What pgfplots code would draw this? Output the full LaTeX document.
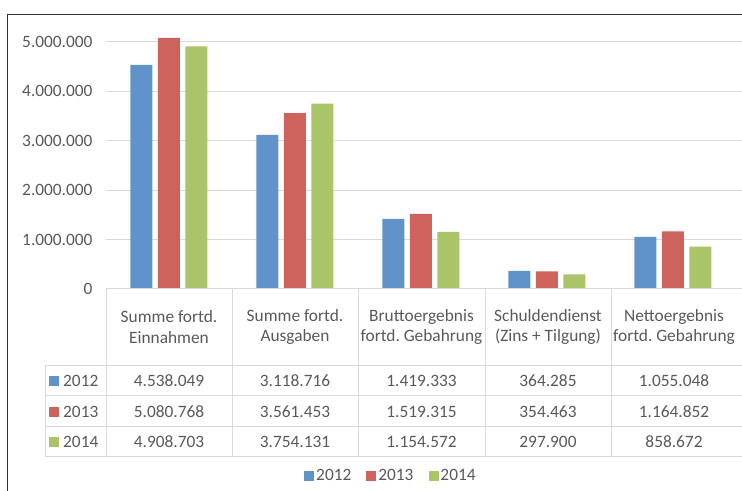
\documentclass[border=0pt]{standalone}
\usepackage{pgfplots}
\pgfplotsset{compat=1.18}
\usepackage{fontspec}
\setmainfont{Carlito}
\frenchspacing
\definecolor{cblue}{HTML}{5F93C9}
\definecolor{cred}{HTML}{CD635C}
\definecolor{cgreen}{HTML}{ABC46A}
\definecolor{txt}{HTML}{595959}
\definecolor{gridc}{HTML}{D9D9D9}
\newcommand\fs{\fontsize{17.4}{21}\selectfont}
\begin{document}
\begin{tikzpicture}[x=1bp,y=1bp]
\useasboundingbox (0,0) rectangle (742,491);
\begin{axis}[
  at={(106bp,202bp)}, anchor=south west,
  scale only axis, width=636bp, height=271.7bp,
  xmin=-0.5, xmax=4.548, ymin=0, ymax=5500000,
  xtick=\empty,
  ytick={0,1000000,2000000,3000000,4000000,5000000},
  scaled y ticks=false,
  /pgf/number format/.cd, fixed, 1000 sep={.}, assume math mode=true, /pgfplots/.cd,
  yticklabel style={font=\fs, text=txt, xshift=-10bp},
  axis line style={draw=none},
  major tick length=0pt,
  ymajorgrids, grid style={gridc, line width=1bp},
  ybar, bar width=22bp,
  legend style={at={(0.448,-0.688)}, anchor=center, draw=none, fill=none,
    legend columns=-1, font=\fs, text=txt,
    /tikz/every even column/.append style={column sep=13bp}},
  legend image code/.code={\fill[#1] (-4bp,-5bp) rectangle (6bp,5bp);},
]
\addplot[fill=cblue, draw=none, bar shift=-27.5bp] coordinates {(0,4538049) (1,3118716) (2,1419333) (3,364285) (4,1055048)};
\addplot[fill=cred, draw=none, bar shift=0bp] coordinates {(0,5080768) (1,3561453) (2,1519315) (3,354463) (4,1164852)};
\addplot[fill=cgreen, draw=none, bar shift=27.5bp] coordinates {(0,4908703) (1,3754131) (2,1154572) (3,297900) (4,858672)};
\legend{2012,2013,2014}
\end{axis}
% table lines
\begin{scope}[gridc, line width=1bp]
\draw (106,202) -- (742,202);
\foreach \y in {125,95,64,34} \draw (45,\y) -- (742,\y);
\draw (45,125) -- (45,34);
\foreach \x in {106,232,358,485,611} \draw (\x,202) -- (\x,34);
\end{scope}
% frame
\draw[black!80, line width=1bp] (7,0) -- (7,476) -- (742,476);
% table texts
\begin{scope}[every node/.style={text=txt, font=\fs, align=center, inner sep=0pt}]
\node at (169,164) {Summe fortd.\\Einnahmen};
\node at (295,164) {Summe fortd.\\Ausgaben};
\node at (421.5,164) {Bruttoergebnis\\fortd. Gebahrung};
\node at (548,164) {Schuldendienst\\(Zins + Tilgung)};
\node at (674,164) {Nettoergebnis\\fortd. Gebahrung};
\fill[cblue] (49,105) rectangle (59,115);
\fill[cred] (49,74) rectangle (59,84);
\fill[cgreen] (49,44) rectangle (59,54);
\node[anchor=west] at (63,110) {2012};
\node[anchor=west] at (63,79) {2013};
\node[anchor=west] at (63,49) {2014};
\node at (169,110) {4.538.049};
\node at (295,110) {3.118.716};
\node at (421.5,110) {1.419.333};
\node at (548,110) {364.285};
\node at (674,110) {1.055.048};
\node at (169,79) {5.080.768};
\node at (295,79) {3.561.453};
\node at (421.5,79) {1.519.315};
\node at (548,79) {354.463};
\node at (674,79) {1.164.852};
\node at (169,49) {4.908.703};
\node at (295,49) {3.754.131};
\node at (421.5,49) {1.154.572};
\node at (548,49) {297.900};
\node at (674,49) {858.672};
\end{scope}
\end{tikzpicture}
\end{document}
